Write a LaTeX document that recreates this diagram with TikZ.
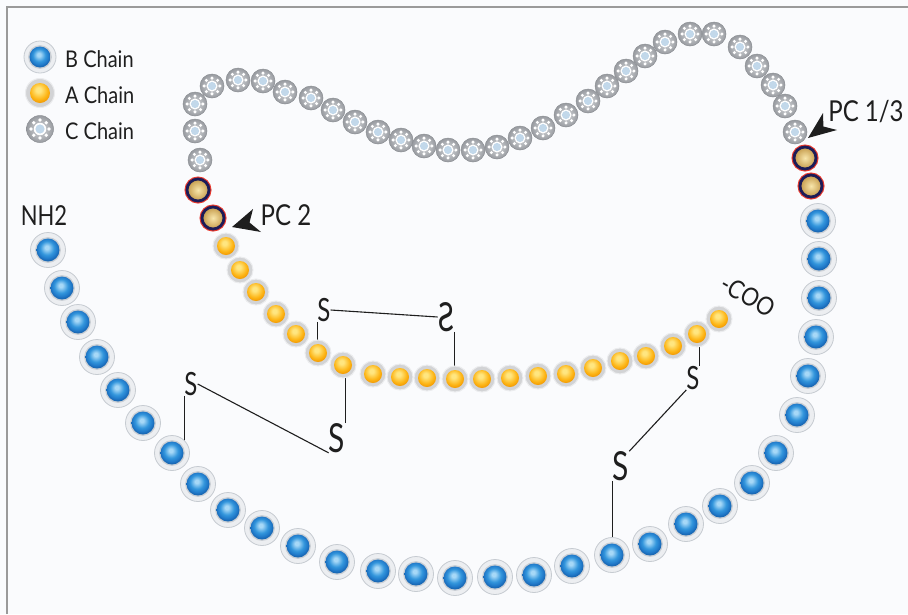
\documentclass[tikz,border=0pt]{standalone}
\usepackage{fontspec}
\setmainfont{Lato}
\usepackage{graphicx}

\definecolor{paper}{HTML}{FAFBFD}
\definecolor{frameline}{HTML}{9A9A9A}
\definecolor{ink}{HTML}{1E1E1E}
% blue (B chain) residues
\definecolor{bl1}{HTML}{A6D8F7}
\definecolor{bl2}{HTML}{3396DC}
\definecolor{bl3}{HTML}{2079C9}
\definecolor{bl4}{HTML}{1A69B5}
\definecolor{ringB}{HTML}{ECEEF1}
\definecolor{ringBedge}{HTML}{C6CBD1}
\definecolor{ringBin}{HTML}{C9CED4}
% orange (A chain) residues
\definecolor{or1}{HTML}{FFE680}
\definecolor{or2}{HTML}{FDB515}
\definecolor{or3}{HTML}{EF9200}
\definecolor{or4}{HTML}{E08400}
\definecolor{ringA}{HTML}{D2D3D5}
\definecolor{ringAedge}{HTML}{EBECEE}
% grey (C chain) residues
\definecolor{cIn}{HTML}{D8DADD}
\definecolor{cOut}{HTML}{989BA0}
\definecolor{cEdge}{HTML}{8C8F94}
\definecolor{cCore}{HTML}{C2D8EA}
% cleavage-site residues
\definecolor{siteIn}{HTML}{F8E6AC}
\definecolor{siteOut}{HTML}{C49A4A}
\definecolor{siteRing}{HTML}{1C1C58}
\definecolor{siteGlow}{HTML}{E8392E}

\pgfdeclareradialshading{blueball}{\pgfpoint{-3bp}{6bp}}{color(0bp)=(bl1); color(4bp)=(bl1); color(15bp)=(bl2); color(22bp)=(bl3); color(25bp)=(bl4); color(50bp)=(bl4)}
\pgfdeclareradialshading{orangeball}{\pgfpoint{-3bp}{6bp}}{color(0bp)=(or1); color(4bp)=(or1); color(15bp)=(or2); color(22bp)=(or3); color(25bp)=(or4); color(50bp)=(or4)}

\pgfdeclarelayer{canvas}
\pgfdeclarelayer{bonds}
\pgfsetlayers{canvas,bonds,main}

\tikzset{
  bbead/.style 2 args={circle, inner sep=0pt, minimum size=#1, fill=ringB, draw=ringBedge, line width=.8pt,
    path picture={\fill[ringBin] (path picture bounding box.center) circle (#2+1.4pt);
      \shade[shading=blueball] (path picture bounding box.center) circle (#2);}},
  abead/.style 2 args={circle, inner sep=0pt, minimum size=#1, fill=ringA, draw=ringAedge, line width=1pt,
    path picture={\shade[shading=orangeball] (path picture bounding box.center) circle (#2);}},
  cbead/.style={circle, inner sep=0pt, minimum size=#1, shading=radial, inner color=cIn, outer color=cOut,
    draw=cEdge, line width=.5pt,
    path picture={
      \foreach \a in {0,45,...,315}
        \fill[white] ([shift={(\a:#1*0.33)}]path picture bounding box.center) circle (#1*0.07);
      \fill[white] (path picture bounding box.center) circle (#1*0.23);
      \fill[cCore] (path picture bounding box.center) circle (#1*0.17);}},
  bB/.style={bbead={35pt}{11.5pt}},
  bA/.style={abead={26pt}{9pt}},
  bC/.style={cbead=24pt},
  site/.style={circle, inner sep=0pt, minimum size=22pt, shading=radial, inner color=siteIn, outer color=siteOut,
    draw=siteRing, line width=2.8pt, preaction={draw=siteGlow, line width=5pt}},
  lbl/.style={text=ink, inner sep=0pt},
  sg/.style={inner sep=0pt, text=ink, font=\fontsize{32}{32}\selectfont},
  sgbig/.style={inner sep=0pt, text=ink, font=\fontsize{40}{40}\selectfont},
  bond/.style={draw=ink, line width=1.1pt},
  pointer/.style={fill=ink},
}

\begin{document}
\begin{tikzpicture}[x=1pt,y=-1pt]
\useasboundingbox (0,0) rectangle (908,614);

\begin{pgfonlayer}{canvas}
  \fill[paper] (0,0) rectangle (908,614);
  \draw[frameline, line width=1.5pt] (7,614) -- (7,7) -- (908,7);
\end{pgfonlayer}

% legend
\node[bbead={32pt}{10.5pt}] (kB) at (40,57) {};
\node[abead={29pt}{10pt}] (kA) at (40,93) {};
\node[cbead=27pt] (kC) at (40,129) {};
\node[lbl, anchor=base west, font=\fontsize{20}{24}\selectfont] (tB) at (65,67) {\scalebox{1}[1.15]{B Chain}};
\node[lbl, anchor=base west, font=\fontsize{20}{24}\selectfont] (tA) at (65,103) {\scalebox{1}[1.15]{A Chain}};
\node[lbl, anchor=base west, font=\fontsize{20}{24}\selectfont] (tC) at (65,139) {\scalebox{1}[1.15]{C Chain}};

% C chain
\foreach \i/\x/\y in {1/200/160, 2/195/131, 3/195/104, 4/212/86, 5/238/80, 6/263/81, 7/285/92,
  8/311/98, 9/333/110, 10/355/122, 11/378/132, 12/401/140, 13/424/146, 14/448/150, 15/473/150,
  16/497/147, 17/520/138, 18/543/128, 19/566/115, 20/588/101, 21/607/86, 22/626/71, 23/645/56,
  24/665/42, 25/690/34, 26/714/34, 27/740/47, 28/757/66, 29/773/85, 30/785/106, 31/795/132}
  \node[bC] (c\i) at (\x,\y) {};

% cleavage-site residues
\node[site] (p1) at (198,190) {};
\node[site] (p2) at (213,218) {};
\node[site] (p3) at (805,158) {};
\node[site] (p4) at (811,186) {};

% A chain
\foreach \i/\x/\y in {1/226/246, 2/240/270, 3/256/292, 4/276/314, 5/296/334, 6/318/353, 7/343/365,
  8/373/374, 9/400/377, 10/427/378, 11/455/379, 12/482/379, 13/510/378, 14/538/376, 15/566/374,
  16/593/368, 17/620/361, 18/646/356, 19/673/346, 20/697/334, 21/719/319}
  \node[bA] (a\i) at (\x,\y) {};

% B chain
\foreach \i/\x/\y in {1/48/250, 2/62/288, 3/78/322, 4/97/357, 5/118/390, 6/143/423, 7/172/453,
  8/198/484, 9/228/510, 10/262/528, 11/298/546, 12/337/562, 13/378/571, 14/416/574, 15/455/578,
  16/495/577, 17/534/575, 18/572/566, 19/612/555, 20/650/544, 21/686/524, 22/720/506, 23/752/483,
  24/776/453, 25/797/415, 26/808/376, 27/816/337, 28/819/298, 29/819/259, 30/818/221}
  \node[bB] (b\i) at (\x,\y) {};

% disulfide sulfur atoms
\node[sg] (s1) at (191,384) {\scalebox{0.75}[1]{S}};
\node[sgbig] (s2) at (337,438) {\scalebox{0.75}[1]{S}};
\node[sg] (s3) at (324,310) {\scalebox{0.75}[1]{S}};
\node[sgbig] (s4) at (446,317) {\reflectbox{\scalebox{0.75}[1]{S}}};
\node[sg] (s5) at (693,378) {\scalebox{0.75}[1]{S}};
\node[sgbig] (s6) at (621,466) {\scalebox{0.75}[1]{S}};

% disulfide bonds
\begin{pgfonlayer}{bonds}
  \draw[bond] (s1.south west) -- (s1.south west |- b7.center);
  \draw[bond] (s1.east) -- (s2.south west);
  \draw[bond] (s2.north east) -- (s2.north east |- a7.center);
  \draw[bond] (s3.south west) -- (s3.south west |- a6.center);
  \draw[bond] (s3.east) -- (s4.west);
  \draw[bond] (s4.south east) -- (s4.south east |- a11.center);
  \draw[bond] (s5.north east) -- (s5.north east |- a20.center);
  \draw[bond] (s5.south west) -- (s6.north east);
  \draw[bond] (s6.south west) -- (s6.south west |- b19.center);
\end{pgfonlayer}

% termini
\node[lbl, font=\fontsize{22}{24}\selectfont] (nterm) at (44,216) {\scalebox{1}[1.25]{NH2}};
\node[lbl, font=\fontsize{22}{24}\selectfont, rotate=-30] (cterm) at (748,296) {\scalebox{1}[1.15]{-COO}};

% processing enzymes
\node[lbl, font=\fontsize{24}{26}\selectfont] (pc13) at (866,112) {\scalebox{1}[1.2]{PC 1/3}};
\node[lbl, font=\fontsize{24}{26}\selectfont] (pc2) at (286,215) {\scalebox{1}[1.2]{PC 2}};
\fill[pointer] (808,138) -- (823,113) -- (823.4,126.5) -- (837,130) -- cycle;
\fill[pointer] (232,227) -- (253,209) -- (249.5,222.5) -- (261,232) -- cycle;
\end{tikzpicture}
\end{document}
